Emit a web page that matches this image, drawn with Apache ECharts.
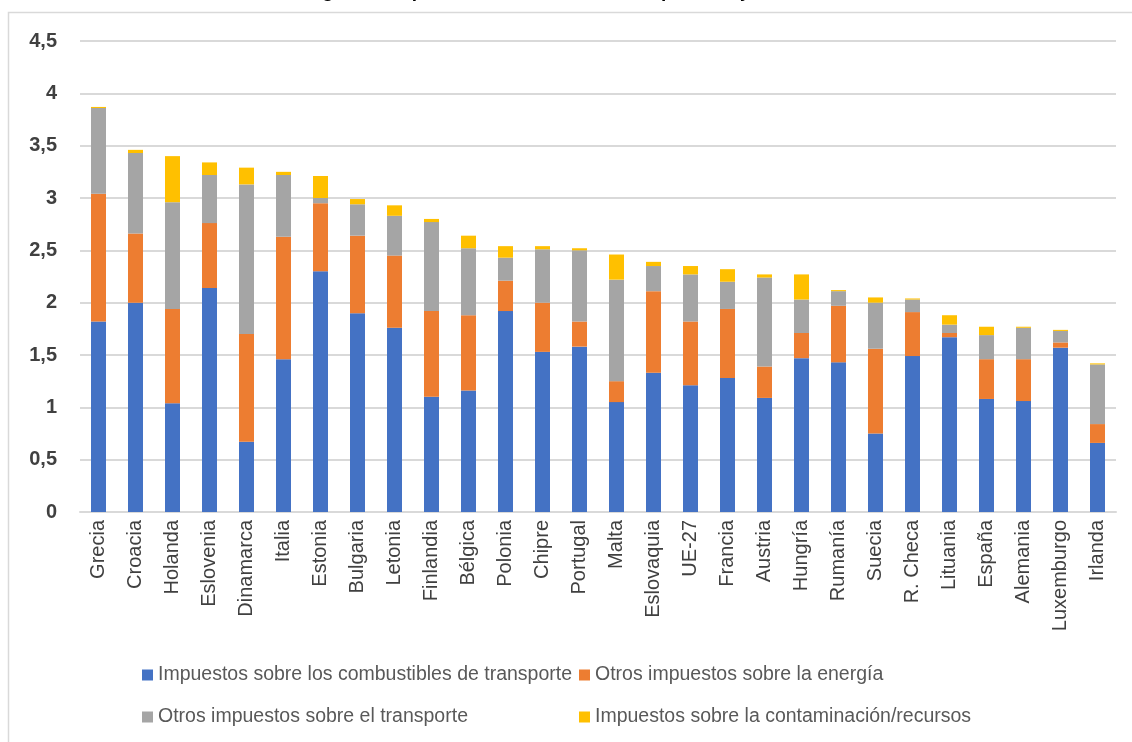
<!DOCTYPE html>
<html>
<head>
<meta charset="utf-8">
<style>
  html, body { margin: 0; padding: 0; background: #fff; }
  #chart { width: 1132px; height: 742px; }
</style>
<script src="https://cdn.jsdelivr.net/npm/echarts@6/dist/echarts.min.js"></script>
</head>
<body>
<div id="chart"></div>
<script>
// Países ordenados por el total de impuestos ambientales (% del PIB)
const categories = ['Grecia', 'Croacia', 'Holanda', 'Eslovenia', 'Dinamarca', 'Italia', 'Estonia',
  'Bulgaria', 'Letonia', 'Finlandia', 'Bélgica', 'Polonia', 'Chipre', 'Portugal', 'Malta',
  'Eslovaquia', 'UE-27', 'Francia', 'Austria', 'Hungría', 'Rumanía', 'Suecia', 'R. Checa',
  'Lituania', 'España', 'Alemania', 'Luxemburgo', 'Irlanda'];

const combustiblesTransporte = [1.82, 2.00, 1.04, 2.14, 0.67, 1.46, 2.30, 1.90, 1.76, 1.10, 1.16, 1.92, 1.53, 1.58,
  1.05, 1.33, 1.21, 1.28, 1.09, 1.47, 1.43, 0.75, 1.49, 1.67, 1.08, 1.06, 1.57, 0.66];
const otrosEnergia = [1.22, 0.66, 0.90, 0.62, 1.03, 1.17, 0.65, 0.74, 0.69, 0.82, 0.72, 0.29, 0.47, 0.24,
  0.20, 0.78, 0.61, 0.66, 0.30, 0.24, 0.54, 0.81, 0.42, 0.04, 0.38, 0.40, 0.05, 0.18];
const otrosTransporte = [0.82, 0.77, 1.02, 0.46, 1.43, 0.59, 0.05, 0.30, 0.38, 0.85, 0.64, 0.22, 0.51, 0.68,
  0.97, 0.24, 0.45, 0.26, 0.85, 0.32, 0.14, 0.44, 0.12, 0.08, 0.23, 0.30, 0.11, 0.57];
const contaminacionRecursos = [0.01, 0.03, 0.44, 0.12, 0.16, 0.03, 0.21, 0.05, 0.10, 0.03, 0.12, 0.11, 0.03, 0.02,
  0.24, 0.04, 0.08, 0.12, 0.03, 0.24, 0.01, 0.05, 0.01, 0.09, 0.08, 0.01, 0.01, 0.01];

const seriesNames = [
  'Impuestos sobre los combustibles de transporte',
  'Otros impuestos sobre la energía',
  'Otros impuestos sobre el transporte',
  'Impuestos sobre la contaminación/recursos'
];
const seriesValues = [combustiblesTransporte, otrosEnergia, otrosTransporte, contaminacionRecursos];
const seriesColors = ['#4472C4', '#ED7D31', '#A5A5A5', '#FFC000'];

const yTicks = { min: 0, max: 4.5, interval: 0.5 };
const titleText = 'Figura 1. Impuestos ambientales como porcentaje del PIB';

const chart = echarts.init(document.getElementById('chart'), null, { renderer: 'canvas' });

// one legend block per item, laid out as a 2x2 grid
const legendSlots = [
  { left: 142, top: 665 },
  { left: 579, top: 665 },
  { left: 142, top: 707 },
  { left: 579, top: 707 }
];

const option = {
  backgroundColor: '#ffffff',
  animation: false,
  title: {
    text: titleText,
    left: 'center',
    top: -18,
    padding: 0,
    textStyle: { fontFamily: 'Liberation Sans', fontSize: 19, fontWeight: 'bold', color: '#000000' }
  },
  graphic: [{
    type: 'rect',
    silent: true,
    shape: { x: 8.5, y: 12.5, width: 1300, height: 900 },
    style: { fill: 'none', stroke: '#d9d9d9', lineWidth: 1.5 }
  }],
  legend: seriesNames.map((name, i) => ({
    data: [name],
    left: legendSlots[i].left,
    top: legendSlots[i].top,
    padding: 0,
    icon: 'rect',
    itemWidth: 11,
    itemHeight: 11,
    selectedMode: false,
    textStyle: { fontFamily: 'Liberation Sans', fontSize: 19.5, color: '#595959' }
  })),
  grid: { left: 80, right: 16, top: 41, bottom: 230, containLabel: false },
  xAxis: {
    type: 'category',
    data: categories,
    axisLine: { show: true, lineStyle: { color: '#d9d9d9', width: 2 } },
    axisTick: { show: false },
    axisLabel: {
      interval: 0,
      rotate: 90,
      margin: 8,
      fontFamily: 'Liberation Sans',
      fontSize: 20,
      color: '#404040'
    }
  },
  yAxis: {
    type: 'value',
    min: yTicks.min,
    max: yTicks.max,
    interval: yTicks.interval,
    axisLine: { show: false },
    axisTick: { show: false },
    splitLine: { lineStyle: { color: '#d9d9d9', width: 2 } },
    axisLabel: {
      margin: 23,
      fontFamily: 'Liberation Sans',
      fontSize: 20,
      fontWeight: 'bold',
      color: '#404040',
      formatter: v => String(v).replace('.', ',')
    }
  },
  series: seriesNames.map((name, i) => ({
    name: name,
    type: 'bar',
    stack: 'total',
    barWidth: 15,
    data: seriesValues[i],
    itemStyle: { color: seriesColors[i] }
  }))
};

chart.setOption(option);
</script>
</body>
</html>
